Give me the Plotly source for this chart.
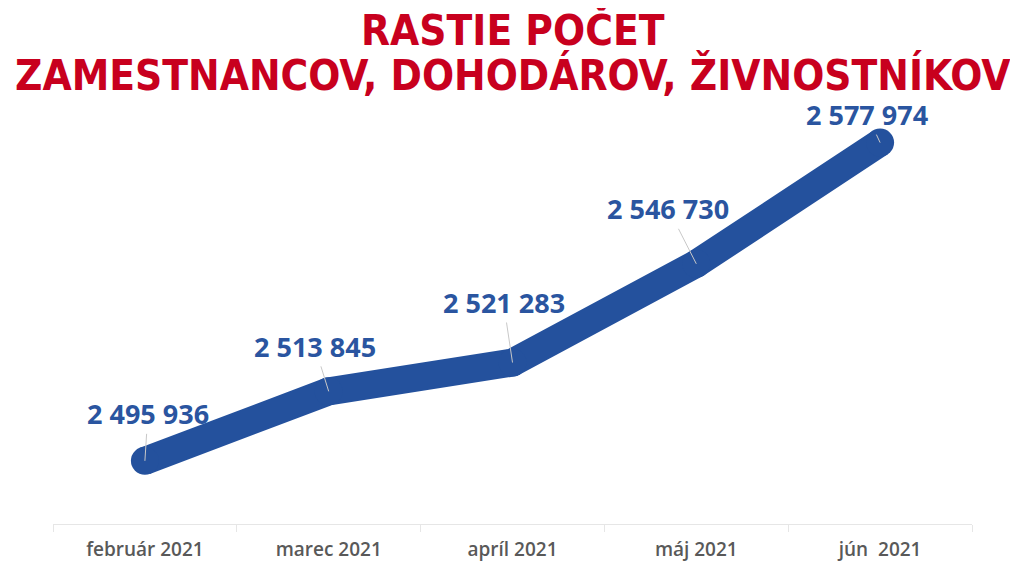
import plotly.graph_objects as go

months = ["február 2021", "marec 2021", "apríl 2021", "máj 2021", "jún\u00a0 2021"]
values = [2495936, 2513845, 2521283, 2546730, 2577974]
label_texts = ["2 495 936", "2 513 845", "2 521 283", "2 546 730", "2 577 974"]
title_line1 = "RASTIE POČET"
title_line2 = "ZAMESTNANCOV, DOHODÁROV, ŽIVNOSTNÍKOV"

# label offsets in pixels (styling)
label_ax = [3, -14, -9, -28, -13]
label_ay = [-47, -45, -60, -55, -28]

LINE_COLOR = "#24519D"
RED = "#C8001E"
TITLE_FONT = "DejaVu Sans Condensed, Liberation Sans Narrow, DejaVu Sans"

fig = go.Figure()
fig.add_trace(go.Scatter(
    x=months, y=values, mode="lines+markers",
    line=dict(color=LINE_COLOR, width=28),
    marker=dict(color=LINE_COLOR, size=28, line=dict(width=0)),
    hoverinfo="skip", showlegend=False,
))

for m, v, t, ax, ay in zip(months, values, label_texts, label_ax, label_ay):
    fig.add_annotation(
        x=m, y=v, xref="x", yref="y", text=t,
        showarrow=True, arrowhead=0, arrowwidth=1, arrowcolor="#C8C8C8",
        ax=ax, ay=ay, standoff=0,
        font=dict(family="Open Sans", size=27, color="#2A55A0", weight="bold"),
    )

plot_h = 414
def py(pixel_y):
    return 1 + (110 - pixel_y) / plot_h

fig.add_annotation(x=0.5, y=py(30), xref="paper", yref="paper", text=title_line1,
                   showarrow=False, xanchor="center", yanchor="middle",
                   font=dict(family=TITLE_FONT, size=42, color=RED, weight="bold"))
fig.add_annotation(x=0.5, y=py(75), xref="paper", yref="paper", text=title_line2,
                   showarrow=False, xanchor="center", yanchor="middle",
                   font=dict(family=TITLE_FONT, size=42, color=RED, weight="bold"))

fig.update_layout(
    width=1010, height=565,
    margin=dict(l=45, r=46, t=102, b=49),
    paper_bgcolor="white", plot_bgcolor="white",
    xaxis=dict(
        type="category", range=[-0.5, 4.5],
        showline=True, linecolor="#E6E6E6", linewidth=1,
        ticks="outside", tickson="boundaries", ticklen=7, tickcolor="#E6E6E6",
        showgrid=False, zeroline=False, ticklabelstandoff=8,
        tickfont=dict(family="Open Sans", size=19, color="#595959", weight=600),
    ),
    yaxis=dict(visible=False, range=[2479657, 2586375]),
)

fig.write_html("out.html")
